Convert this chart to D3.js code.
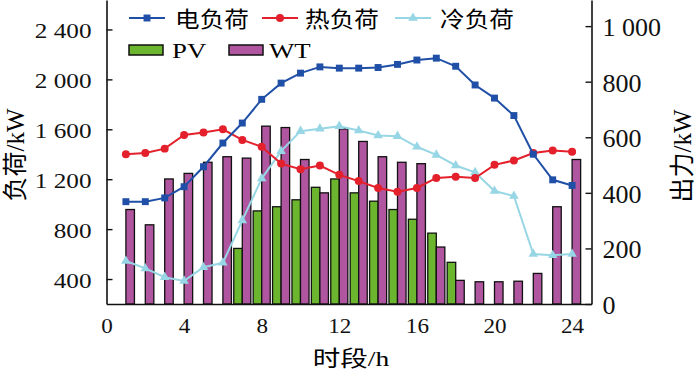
<!DOCTYPE html>
<html>
<head>
<meta charset="utf-8">
<script src="https://cdn.jsdelivr.net/npm/d3@7"></script>
<style>
  body { margin: 0; background: #fff; }
  svg { display: block; }
</style>
</head>
<body>
<svg id="chart" width="700" height="372"></svg>
<script>
// hourly data
const hours = [1, 2, 3, 4, 5, 6, 7, 8, 9, 10, 11, 12, 13, 14, 15, 16, 17, 18, 19, 20, 21, 22, 23, 24];
const elecLoad = [1020, 1020, 1050, 1140, 1300, 1490, 1650, 1840, 1970, 2050, 2100, 2090, 2090, 2095, 2120, 2155, 2170, 2105, 1955, 1850, 1710, 1400, 1195, 1150];
const heatLoad = [1400, 1410, 1445, 1555, 1575, 1600, 1515, 1460, 1325, 1280, 1310, 1235, 1185, 1130, 1100, 1130, 1210, 1220, 1210, 1315, 1350, 1410, 1430, 1420];
const coldLoad = [545, 485, 415, 385, 495, 530, 870, 1205, 1425, 1585, 1605, 1625, 1590, 1550, 1545, 1460, 1395, 1310, 1255, 1105, 1065, 600, 590, 600];
const pvOut = [0, 0, 0, 0, 0, 0, 200, 335, 350, 375, 420, 450, 400, 370, 340, 305, 255, 150, 0, 0, 0, 0, 0, 0];
const wtOut = [340, 285, 450, 470, 510, 530, 525, 640, 635, 520, 400, 630, 585, 530, 510, 505, 205, 85, 80, 80, 82, 110, 350, 520];

const xTicks = [0, 4, 8, 12, 16, 20, 24];
const leftTicks = [400, 800, 1200, 1600, 2000, 2400];
const rightTicks = [0, 200, 400, 600, 800, 1000];

const svg = d3.select("svg#chart");
const font = "'Liberation Serif','Times New Roman','Noto Sans CJK SC',serif";
const fmt = d3.formatLocale({ decimal: ".", thousands: " ", grouping: [3], currency: ["", ""] }).format(",d");

const plot = { left: 106.5, right: 591.5, top: 0, bottom: 304 };

const x = d3.scaleLinear([0, 25], [plot.left, plot.right]);
const yL = d3.scaleLinear([200, 2636], [plot.bottom, plot.top]);
const yR = d3.scaleLinear([0, 1094], [plot.bottom, plot.top]);

const barW = x(0.44) - x(0);

// bars (right axis)
const bars = svg.append("g").attr("class", "bars");
bars.selectAll(".pv")
  .data(hours.map((h, i) => ({ h, v: pvOut[i] })).filter((d) => d.v > 0))
  .join("rect")
  .attr("class", "pv")
  .attr("x", (d) => x(d.h) - barW)
  .attr("y", (d) => yR(d.v))
  .attr("width", barW)
  .attr("height", (d) => yR(0) - yR(d.v))
  .attr("fill", "#6cb52e")
  .attr("stroke", "#111")
  .attr("stroke-width", 1.3);

bars.selectAll(".wt")
  .data(hours.map((h, i) => ({ h, v: wtOut[i] })))
  .join("rect")
  .attr("class", "wt")
  .attr("x", (d) => x(d.h))
  .attr("y", (d) => yR(d.v))
  .attr("width", barW)
  .attr("height", (d) => yR(0) - yR(d.v))
  .attr("fill", "#b0559f")
  .attr("stroke", "#111")
  .attr("stroke-width", 1.3);

// load lines (left axis)
const series = [
  { name: "电负荷", values: elecLoad, color: "#1f4fa6", marker: d3.symbolSquare, size: 48 },
  { name: "热负荷", values: heatLoad, color: "#e3202b", marker: d3.symbolCircle, size: 50 },
  { name: "冷负荷", values: coldLoad, color: "#97d6e4", marker: d3.symbolTriangle, size: 40 }
];

const line = d3.line()
  .x((d) => x(d.h))
  .y((d) => yL(d.v));

const lines = svg.append("g").attr("class", "lines");
series.slice().reverse().forEach((s) => {
  const pts = hours.map((h, i) => ({ h, v: s.values[i] }));
  const g = lines.append("g");
  g.append("path")
    .attr("d", line(pts))
    .attr("fill", "none")
    .attr("stroke", s.color)
    .attr("stroke-width", 2);
  g.selectAll("path.m")
    .data(pts)
    .join("path")
    .attr("class", "m")
    .attr("d", d3.symbol(s.marker, s.size))
    .attr("transform", (d) => `translate(${x(d.h)},${yL(d.v)})`)
    .attr("fill", s.color);
});

// axes
const axisStyle = (g) => {
  g.select(".domain").attr("stroke", "#111").attr("stroke-width", 1.6);
  g.selectAll(".tick line").attr("stroke", "#111").attr("stroke-width", 1.4);
  g.selectAll("text").attr("fill", "#111").attr("font-family", font);
};

svg.append("g")
  .attr("transform", `translate(${plot.left},0)`)
  .call(d3.axisLeft(yL).tickValues(leftTicks).tickFormat(fmt).tickSizeInner(-6).tickSizeOuter(0))
  .call(axisStyle)
  .call((g) => g.selectAll("text")
    .attr("x", null).attr("dy", "0.38em")
    .attr("font-size", 21)
    .attr("transform", "translate(-15,0) scale(1.2,1)"));

svg.append("g")
  .attr("transform", `translate(${plot.right},0)`)
  .call(d3.axisRight(yR).tickValues(rightTicks).tickFormat(fmt).tickSizeInner(-6).tickSizeOuter(0))
  .call(axisStyle)
  .call((g) => g.selectAll("text")
    .attr("x", null).attr("dy", "0.36em")
    .attr("font-size", 26)
    .attr("transform", "translate(11,0)"));

svg.append("g")
  .attr("transform", `translate(0,${plot.bottom})`)
  .call(d3.axisBottom(x).tickValues(xTicks).tickFormat(d3.format("d")).tickSize(0))
  .call(axisStyle)
  .call((g) => g.selectAll("text")
    .attr("y", 29).attr("dy", null)
    .attr("font-size", 22)
    .attr("transform", "scale(1.05,1)"));

// axis titles
svg.append("text")
  .attr("transform", "translate(24,155) rotate(-90)")
  .attr("text-anchor", "middle")
  .attr("font-family", font)
  .attr("font-size", 25)
  .text("负荷/kW");

svg.append("text")
  .attr("transform", "translate(691,156) rotate(-90)")
  .attr("text-anchor", "middle")
  .attr("font-family", font)
  .attr("font-size", 25)
  .text("出力/kW");

svg.append("text")
  .attr("transform", "translate(351,366) scale(1.25,1)")
  .attr("text-anchor", "middle")
  .attr("font-family", font)
  .attr("font-size", 22)
  .text("时段/h");

// legend
const legend = svg.append("g").attr("class", "legend");
const lineKeys = [
  { s: series[0], x0: 129, text: 175 },
  { s: series[1], x0: 262, text: 305 },
  { s: series[2], x0: 395, text: 440 }
];
lineKeys.forEach((k) => {
  legend.append("line")
    .attr("x1", k.x0).attr("x2", k.x0 + 36)
    .attr("y1", 18).attr("y2", 18)
    .attr("stroke", k.s.color).attr("stroke-width", 2);
  legend.append("path")
    .attr("d", d3.symbol(k.s.marker, k.s.size))
    .attr("transform", `translate(${k.x0 + 18},18)`)
    .attr("fill", k.s.color);
  legend.append("text")
    .attr("transform", `translate(${k.text},26.5) scale(1.12,1)`)
    .attr("font-family", font)
    .attr("font-size", 22)
    .text(k.s.name);
});

const barKeys = [
  { name: "PV", color: "#6cb52e", x0: 129, text: 172 },
  { name: "WT", color: "#b0559f", x0: 229, text: 269 }
];
barKeys.forEach((k) => {
  legend.append("rect")
    .attr("x", k.x0).attr("y", 45)
    .attr("width", 34).attr("height", 10)
    .attr("fill", k.color)
    .attr("stroke", "#111").attr("stroke-width", 1.5);
  legend.append("text")
    .attr("transform", `translate(${k.text},58) scale(1.22,1)`)
    .attr("font-family", font)
    .attr("font-size", 22)
    .text(k.name);
});
</script>
</body>
</html>
